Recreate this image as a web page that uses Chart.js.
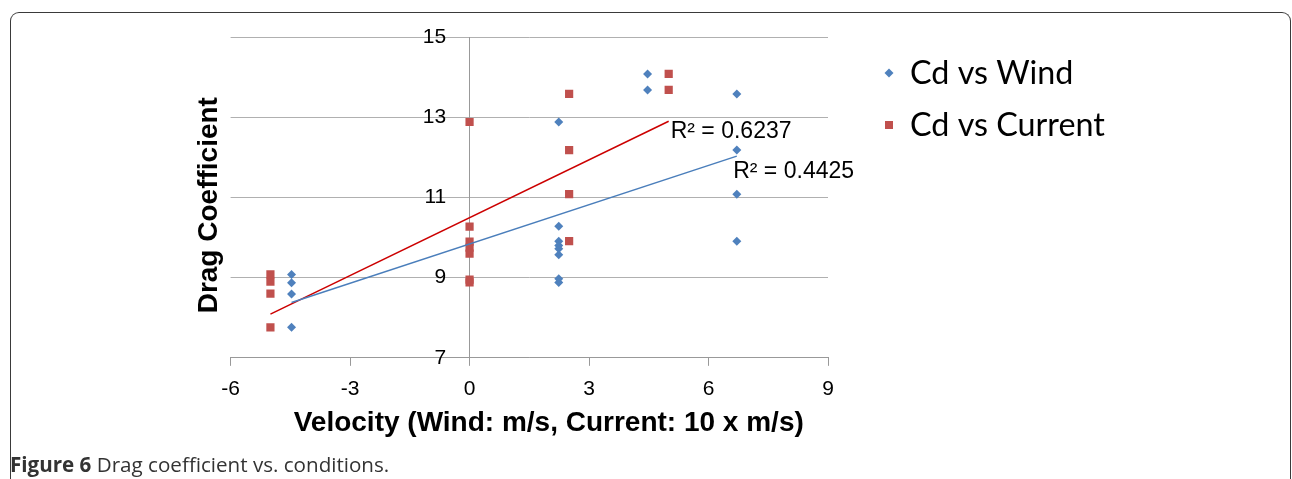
<!DOCTYPE html>
<html>
<head>
<meta charset="utf-8">
<script src="https://cdn.jsdelivr.net/npm/chart.js@4/dist/chart.umd.min.js"></script>
<style>
  html, body { margin: 0; padding: 0; background: #fff; }
  #wrap { position: relative; width: 1292px; height: 479px; overflow: hidden; }
  #frame {
    position: absolute; left: 10px; top: 12px; width: 1279px; height: 520px;
    border: 1.5px solid #3a3a3a; border-bottom: none; border-radius: 9px 9px 0 0;
  }
  #chart { position: absolute; left: 0; top: 0; }
  #caption {
    position: absolute; left: 10px; top: 450px;
    font-family: "Open Sans", sans-serif; font-size: 20.6px; color: #333;
  }
</style>
</head>
<body>
<div id="wrap">
  <div id="frame"></div>
  <canvas id="chart" width="1292" height="479"></canvas>
  <div id="caption"><b>Figure 6</b> Drag coefficient vs. conditions.</div>
</div>
<script>
// Werte
const windVelocity = [-4.47, -4.47, -4.47, -4.47,
  2.24, 2.24, 2.24, 2.24, 2.24, 2.24, 2.24, 2.24,
  4.47, 4.47,
  6.71, 6.71, 6.71, 6.71];
const windCd = [9.08, 8.87, 8.59, 7.76,
  12.88, 10.28, 9.91, 9.8, 9.72, 9.57, 8.97, 8.88,
  14.08, 13.68,
  13.58, 12.18, 11.08, 9.91];

const currentVelocity = [-5, -5, -5, -5,
  0, 0, 0, 0, 0, 0, 0,
  2.5, 2.5, 2.5, 2.5,
  5, 5];
const currentCd = [9.08, 8.9, 8.6, 7.76,
  12.88, 10.27, 9.9, 9.75, 9.6, 8.95, 8.88,
  13.58, 12.18, 11.08, 9.91,
  14.08, 13.68];

const windTrendX = [-4.47, 6.71];
const windTrendY = [8.38, 12.03];
const currentTrendX = [-5, 5];
const currentTrendY = [8.09, 12.9];

const r2Labels = ["R² = 0.6237", "R² = 0.4425"];
const r2LabelX = [5.05, 6.62];
const r2LabelY = [12.65, 11.65];

const seriesNames = ["Cd vs Wind", "Cd vs Current"];

const xTicks = [-6, -3, 0, 3, 6, 9];
const yTicks = [7, 9, 11, 13, 15];

const toPoints = (xs, ys) => xs.map((x, i) => ({ x: x, y: ys[i] }));

const blue = "#4f81bd";
const red = "#c0504d";
const arial = "'Liberation Sans', Arial, sans-serif";

// R²-Beschriftungen
const r2Plugin = {
  id: "r2Labels",
  afterDatasetsDraw(chart) {
    const { ctx, scales } = chart;
    ctx.save();
    ctx.font = "23px " + arial;
    ctx.fillStyle = "#000";
    ctx.textAlign = "left";
    ctx.textBaseline = "middle";
    r2Labels.forEach((t, i) => {
      ctx.fillText(t, scales.x.getPixelForValue(r2LabelX[i]), scales.y.getPixelForValue(r2LabelY[i]));
    });
    ctx.restore();
  }
};

// Legende rechts oben
const legendPlugin = {
  id: "sideLegend",
  afterDraw(chart) {
    const { ctx, chartArea } = chart;
    const mx = chartArea.right + 61;
    const tx = chartArea.right + 82;
    const rows = [73, 125];
    ctx.save();
    ctx.font = "32.3px Lato, 'Open Sans', sans-serif";
    ctx.textAlign = "left";
    ctx.textBaseline = "middle";

    // Raute
    ctx.fillStyle = blue;
    ctx.beginPath();
    ctx.moveTo(mx, rows[0] - 4.5);
    ctx.lineTo(mx + 4.5, rows[0]);
    ctx.lineTo(mx, rows[0] + 4.5);
    ctx.lineTo(mx - 4.5, rows[0]);
    ctx.closePath();
    ctx.fill();

    // Quadrat
    ctx.fillStyle = red;
    ctx.fillRect(mx - 4, rows[1] - 4, 8, 8);

    ctx.fillStyle = "#000";
    seriesNames.forEach((n, i) => ctx.fillText(n, tx, rows[i] + 1));
    ctx.restore();
  }
};

const ctx = document.getElementById("chart").getContext("2d");

new Chart(ctx, {
  type: "scatter",
  data: {
    datasets: [
      {
        label: seriesNames[0],
        data: toPoints(windVelocity, windCd),
        pointStyle: "rectRot",
        pointRadius: 4.5,
        backgroundColor: blue,
        borderColor: blue,
        borderWidth: 0,
        order: 2
      },
      {
        label: seriesNames[1],
        data: toPoints(currentVelocity, currentCd),
        pointStyle: "rect",
        pointRadius: 5.8,
        backgroundColor: red,
        borderColor: red,
        borderWidth: 0,
        order: 2
      },
      {
        label: "Trend Wind",
        data: toPoints(windTrendX, windTrendY),
        showLine: true,
        pointRadius: 0,
        borderColor: "#4a7ebb",
        borderWidth: 1.5,
        order: 1
      },
      {
        label: "Trend Current",
        data: toPoints(currentTrendX, currentTrendY),
        showLine: true,
        pointRadius: 0,
        borderColor: "#cc0000",
        borderWidth: 1.5,
        order: 1
      }
    ]
  },
  options: {
    responsive: false,
    animation: false,
    layout: {
      padding: { top: 37, bottom: 46, left: 192, right: 464 }
    },
    plugins: {
      legend: { display: false },
      tooltip: { enabled: false }
    },
    scales: {
      x: {
        type: "linear",
        min: -6,
        max: 9,
        afterBuildTicks: axis => { axis.ticks = xTicks.map(v => ({ value: v })); },
        ticks: {
          color: "#000",
          padding: 13,
          font: { family: arial, size: 21, lineHeight: 1 }
        },
        grid: {
          drawOnChartArea: false,
          drawTicks: true,
          tickLength: 8,
          color: "#999"
        },
        border: { display: true, color: "#999", width: 1 },
        title: {
          display: true,
          // führende Leerzeichen: Titel sitzt leicht rechts der Mitte
          text: "     Velocity (Wind: m/s, Current: 10 x m/s)",
          color: "#000",
          padding: { top: 0, bottom: 0 },
          font: { family: arial, size: 28, weight: "bold", lineHeight: 0.72 }
        }
      },
      y: {
        type: "linear",
        min: 7,
        max: 15,
        position: { x: 0 },
        afterBuildTicks: axis => { axis.ticks = yTicks.map(v => ({ value: v })); },
        ticks: {
          color: "#000",
          font: { family: arial, size: 21 },
          // Abstand zur Achse bei position {x: 0}
          callback: v => v + "    "
        },
        grid: {
          color: "#b0b0b0",
          drawTicks: true,
          tickLength: 6
        },
        border: { display: true, color: "#999", width: 1 }
      },
      yTitle: {
        type: "linear",
        position: "left",
        min: 7,
        max: 15,
        ticks: { display: false },
        grid: { display: false, drawTicks: false },
        border: { display: false },
        title: {
          display: true,
          text: "Drag Coefficient  ",
          color: "#000",
          padding: { top: 0, bottom: 5 },
          font: { family: arial, size: 28, weight: "bold" }
        }
      }
    }
  },
  plugins: [r2Plugin, legendPlugin]
});
</script>
</body>
</html>
